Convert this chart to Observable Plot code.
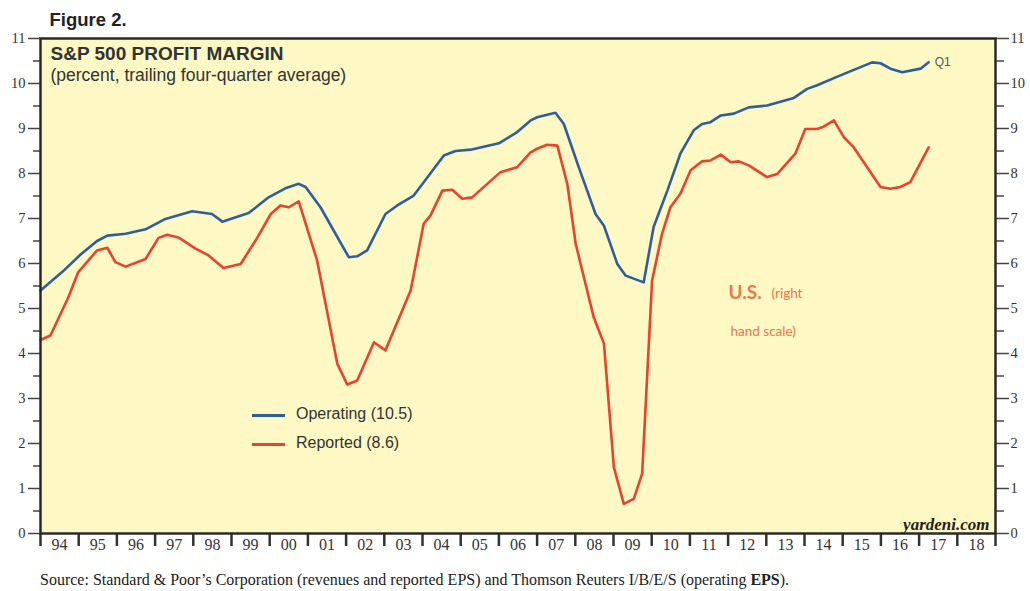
<!DOCTYPE html>
<html><head><meta charset="utf-8">
<script src="https://cdn.jsdelivr.net/npm/d3@7"></script>
<script src="https://cdn.jsdelivr.net/npm/@observablehq/plot@0.6"></script>
<style>
body{margin:0;background:#fff;}
#wrap{position:relative;width:1030px;height:591px;overflow:hidden;}
#wrap svg{position:absolute;left:0;top:0;}
.ov{position:absolute;white-space:nowrap;}
#source{left:40px;top:571px;font-family:"Liberation Serif","Times New Roman",serif;font-size:16px;color:#222;}
.leg{font-family:"Liberation Sans",Arial,sans-serif;font-size:16px;color:#333;}
.sw{position:absolute;width:33px;height:3px;}
</style></head><body><div id="wrap"></div>
<script>
// ---- data ----
const operatingYear = [1994.00,1994.58,1995.05,1995.48,1995.75,1996.23,1996.75,1997.27,1997.97,1998.49,1998.76,1999.45,1999.97,2000.41,2000.76,2000.94,2001.33,2002.07,2002.29,2002.55,2003.03,2003.34,2003.77,2004.56,2004.86,2005.26,2006.00,2006.48,2006.83,2007.00,2007.48,2007.70,2008.09,2008.53,2008.75,2009.10,2009.32,2009.79,2010.05,2010.41,2010.75,2011.10,2011.32,2011.54,2011.81,2012.15,2012.54,2013.02,2013.72,2014.07,2014.33,2014.94,2015.77,2015.99,2016.25,2016.56,2017.04,2017.25];
const operatingValue = [5.40,5.82,6.20,6.50,6.62,6.66,6.76,6.99,7.16,7.10,6.93,7.12,7.47,7.67,7.77,7.70,7.25,6.14,6.16,6.29,7.10,7.29,7.51,8.40,8.50,8.53,8.67,8.92,9.18,9.25,9.35,9.10,8.14,7.10,6.84,5.99,5.73,5.58,6.81,7.62,8.44,8.96,9.10,9.14,9.29,9.33,9.47,9.51,9.68,9.88,9.96,10.18,10.47,10.45,10.33,10.25,10.33,10.47];
const reportedYear = [1994.00,1994.26,1994.73,1994.99,1995.48,1995.75,1995.96,1996.23,1996.75,1997.09,1997.32,1997.61,1998.06,1998.40,1998.79,1999.24,1999.63,2000.03,2000.28,2000.50,2000.76,2001.24,2001.77,2002.03,2002.29,2002.73,2003.03,2003.69,2004.03,2004.21,2004.52,2004.78,2005.04,2005.30,2006.04,2006.48,2006.83,2007.00,2007.26,2007.53,2007.79,2008.01,2008.48,2008.75,2009.01,2009.27,2009.53,2009.75,2010.01,2010.27,2010.49,2010.75,2011.02,2011.32,2011.54,2011.81,2012.07,2012.28,2012.54,2013.02,2013.29,2013.76,2014.02,2014.33,2014.50,2014.77,2015.03,2015.29,2015.99,2016.25,2016.51,2016.77,2017.25];
const reportedValue = [4.30,4.40,5.25,5.81,6.29,6.35,6.03,5.93,6.10,6.57,6.64,6.58,6.33,6.18,5.90,5.99,6.51,7.10,7.29,7.25,7.38,6.07,3.77,3.31,3.40,4.25,4.07,5.40,6.88,7.07,7.62,7.64,7.44,7.47,8.03,8.14,8.47,8.55,8.64,8.62,7.77,6.44,4.81,4.22,1.47,0.66,0.77,1.33,5.62,6.66,7.25,7.55,8.07,8.27,8.29,8.42,8.25,8.27,8.18,7.92,7.99,8.44,8.99,8.99,9.04,9.18,8.81,8.58,7.70,7.66,7.70,7.81,8.58];
const yTicks = [0,1,2,3,4,5,6,7,8,9,10,11];
const yMinorTicks = [0.5,1.5,2.5,3.5,4.5,5.5,6.5,7.5,8.5,9.5,10.5];
const yearStarts = [1994,1995,1996,1997,1998,1999,2000,2001,2002,2003,2004,2005,2006,2007,2008,2009,2010,2011,2012,2013,2014,2015,2016,2017,2018];
const yearLabels = ["94","95","96","97","98","99","00","01","02","03","04","05","06","07","08","09","10","11","12","13","14","15","16","17","18"];
const seriesNames = ["Operating (10.5)","Reported (8.6)"];

const BLUE = "#2f5d9f", RED = "#e8432d";
const operating = operatingYear.map((t,i)=>({t, v: operatingValue[i]}));
const reported = reportedYear.map((t,i)=>({t, v: reportedValue[i]}));
const boundaries = [...yearStarts, yearStarts[yearStarts.length-1]+1];
const serif = "Liberation Serif, Times New Roman, serif";
const sans = "Liberation Sans, Arial, sans-serif";
const callout = "Lato, Open Sans, sans-serif";

const chart = Plot.plot({
  width: 1030, height: 591,
  marginLeft: 40, marginRight: 35, marginTop: 38, marginBottom: 58,
  style: {fontFamily: serif, fontSize: "14px", color: "#333", background: "transparent", overflow: "visible"},
  x: {domain: [1994, 2019], axis: null},
  y: {domain: [0, 11], axis: null},
  marks: [
    Plot.frame({fill: "#fdf8c4", stroke: null}),
    // left axis
    Plot.axisY({anchor: "left", ticks: yTicks, tickSize: 12, tickPadding: 3, strokeWidth: 1.5, stroke: "#444", fontSize: 14.5, label: null}),
    Plot.axisY({anchor: "left", ticks: yMinorTicks, tickSize: 7, strokeWidth: 1.5, stroke: "#444", tickFormat: () => "", label: null}),
    // right axis
    Plot.axisY({anchor: "right", ticks: yTicks, tickSize: 13, tickPadding: 2, strokeWidth: 1.5, stroke: "#444", fontSize: 14.5, label: null}),
    Plot.axisY({anchor: "right", ticks: yMinorTicks, tickSize: 8, strokeWidth: 1.5, stroke: "#444", tickFormat: () => "", label: null}),
    // bottom axis: ticks at year boundaries, labels between
    Plot.axisX({anchor: "bottom", ticks: boundaries, tickSize: 13, strokeWidth: 2.5, stroke: "#333", tickFormat: () => "", label: null}),
    Plot.text(yearLabels, {x: (d,i) => yearStarts[i] + 0.5, frameAnchor: "bottom", dy: 16, text: d => d, fontFamily: serif, fontSize: 16, fill: "#333"}),
    // series
    Plot.line(operating, {x: "t", y: "v", stroke: BLUE, strokeWidth: 2.6, curve: "linear"}),
    Plot.line(reported, {x: "t", y: "v", stroke: RED, strokeWidth: 2.6, curve: "linear"}),
    Plot.text([operating[operating.length-1]], {x: "t", y: "v", text: () => "Q1", dx: 6, textAnchor: "start", fontFamily: sans, fontSize: 12, fill: "#555"}),
    Plot.frame({stroke: "#2a2a2a", strokeWidth: 2.5}),
    // titles
    Plot.text(["Figure 2."], {frameAnchor: "top-left", dx: 9, dy: -18, textAnchor: "start", lineAnchor: "middle", fontFamily: sans, fontWeight: "bold", fontSize: 18.5, fill: "#222"}),
    Plot.text(["S&P 500 PROFIT MARGIN"], {frameAnchor: "top-left", dx: 10, dy: 15, textAnchor: "start", lineAnchor: "middle", fontFamily: sans, fontWeight: "bold", fontSize: 19, fill: "#333", letterSpacing: "0.6px"}),
    Plot.text(["(percent, trailing four-quarter average)"], {frameAnchor: "top-left", dx: 10, dy: 37, textAnchor: "start", lineAnchor: "middle", fontFamily: sans, fontSize: 17.5, fill: "#333"}),
    // annotation
    Plot.text(["U.S."], {frameAnchor: "top-left", dx: 688, dy: 254, textAnchor: "start", lineAnchor: "middle", fontFamily: callout, fontWeight: "bold", fontSize: 19, fill: "#e9794c"}),
    Plot.text(["(right"], {frameAnchor: "top-left", dx: 731, dy: 255, textAnchor: "start", lineAnchor: "middle", fontFamily: callout, fontSize: 13.5, fill: "#e9794c"}),
    Plot.text(["hand scale)"], {frameAnchor: "top-left", dx: 690, dy: 293, textAnchor: "start", lineAnchor: "middle", fontFamily: callout, fontSize: 13.5, fill: "#e9794c"}),
    Plot.text(["yardeni.com"], {frameAnchor: "bottom-right", dx: -6, dy: -9, textAnchor: "end", lineAnchor: "middle", fontFamily: serif, fontWeight: "bold", fontStyle: "italic", fontSize: 17, fill: "#222"})
  ]
});
const wrap = document.getElementById("wrap");
wrap.appendChild(chart);

// legend
const legendColors = [BLUE, RED];
seriesNames.forEach((name, i) => {
  const top = 415 + i * 29;
  const sw = document.createElement("div");
  sw.className = "sw"; sw.style.left = "252px"; sw.style.top = (top - 1.5) + "px"; sw.style.background = legendColors[i];
  wrap.appendChild(sw);
  const tx = document.createElement("div");
  tx.className = "ov leg"; tx.style.left = "296px"; tx.style.top = (top - 10) + "px"; tx.textContent = name;
  wrap.appendChild(tx);
});
const src = document.createElement("div");
src.id = "source"; src.className = "ov";
src.innerHTML = "Source: Standard &amp; Poor’s Corporation (revenues and reported EPS) and Thomson Reuters I/B/E/S (operating <b>EPS</b>).";
wrap.appendChild(src);
</script></body></html>
